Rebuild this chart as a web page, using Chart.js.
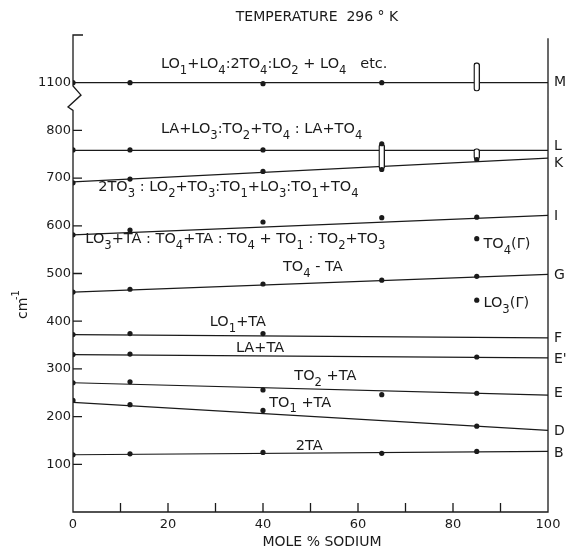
<!DOCTYPE html>
<html>
<head>
<meta charset="utf-8">
<script src="https://cdn.jsdelivr.net/npm/chart.js@4.4.1/dist/chart.umd.min.js"></script>
<style>
  html, body { margin: 0; padding: 0; background: #fff; }
  #wrap { width: 568px; height: 550px; }
</style>
</head>
<body>
<div id="wrap"><canvas id="chart"></canvas></div>
<script>
// measured compositions (mole % sodium)
const molePct = [0, 12, 40, 65, 85];

// measured frequencies (cm-1), null where no point was plotted
const bandM = [1100, 1100, 1098, 1100, null];
const bandL = [759, 759, 759, 772, null];
const bandK = [690, 698, 714, 718, 739];
const bandI = [581, 591, 608, 617, 618];
const bandG = [461, 467, 478, 486, 494];
const bandF = [372, 374, 374, null, null];
const bandE2 = [330, 331, null, null, 325];
const bandE = [271, 273, 256, 246, 249];
const bandD = [234, 225, 213, null, 180];
const bandB = [120, 122, 125, 123, 127];

const bandNames = ['M', 'L', 'K', 'I', 'G', 'F', "E'", 'E', 'D', 'B'];
const bandPoints = [bandM, bandL, bandK, bandI, bandG, bandF, bandE2, bandE, bandD, bandB];

// straight lines drawn through each band, value at 0 % and at 100 %
const lineAt0 = [1100, 758, 692, 581, 461, 372, 330, 271, 230, 120];
const lineAt100 = [1100, 758, 742, 622, 498, 365, 323, 245, 171, 127];
// where the letter at the right edge sits
const letterAt = [1100, 766, 731, 620, 497, 365, 321, 248, 170, 123];

// error ranges drawn as narrow loops
const rangeX = [65, 85, 85];
const rangeLo = [718, 739, 1082];
const rangeHi = [772, 762, 1142];

// zone centre modes
const gammaX = [85, 85];
const gammaY = [573, 444];

const yTickValues = [100, 200, 300, 400, 500, 600, 700, 800, 1100];
const xTickValues = [0, 20, 40, 60, 80, 100];
const xMinorTicks = [10, 20, 30, 40, 50, 60, 70, 80, 90];

// the axis is broken between 800 and 1100
const plotY = v => (v > 1000 ? v - 200 : v);

const FONT = "'DejaVu Sans', sans-serif";
const INK = '#1a1a1a';

// assignments written next to the lines: [x, baseline value, text]
const notes = [
  [18.5, 1130, 'LO_1+LO_4:2TO_4:LO_2 + LO_4   etc.'],
  [18.5, 794, 'LA+LO_3:TO_2+TO_4 : LA+TO_4'],
  [5.3, 672, '2TO_3 : LO_2+TO_3:TO_1+LO_3:TO_1+TO_4'],
  [2.6, 563, 'LO_3+TA : TO_4+TA : TO_4 + TO_1 : TO_2+TO_3'],
  [86.4, 553, 'TO_4(Γ)'],
  [44.2, 505, 'TO_4 - TA'],
  [86.4, 429, 'LO_3(Γ)'],
  [28.8, 390, 'LO_1+TA'],
  [34.3, 335, 'LA+TA'],
  [46.6, 276, 'TO_2 +TA'],
  [41.3, 221, 'TO_1 +TA'],
  [46.9, 129, '2TA']
];

function richText(ctx, text, x, y, size) {
  const parts = text.split(/_(\d)/);
  let cx = x;
  parts.forEach((p, i) => {
    if (!p) return;
    const sub = i % 2 === 1;
    ctx.font = (sub ? size * 0.8 : size) + 'px ' + FONT;
    ctx.fillText(p, cx, sub ? y + size * 0.4 : y);
    cx += ctx.measureText(p).width;
  });
}

const decor = {
  id: 'decor',
  afterDatasetsDraw(chart) {
    const { ctx, scales: { x, y } } = chart;
    const left = x.getPixelForValue(0);
    const right = x.getPixelForValue(100);
    const bottom = y.getPixelForValue(0);
    ctx.save();
    ctx.strokeStyle = INK;
    ctx.fillStyle = INK;
    ctx.lineWidth = 1.3;

    // frame with the break
    ctx.beginPath();
    ctx.moveTo(left + 10, y.getPixelForValue(1000));
    ctx.lineTo(left, y.getPixelForValue(1000));
    ctx.lineTo(left, y.getPixelForValue(893));
    ctx.lineTo(left + 8, y.getPixelForValue(874));
    ctx.lineTo(left - 5, y.getPixelForValue(849));
    ctx.lineTo(left, y.getPixelForValue(842));
    ctx.lineTo(left, bottom);
    ctx.lineTo(right, bottom);
    ctx.lineTo(right, y.getPixelForValue(993));
    ctx.stroke();

    // inward ticks
    ctx.beginPath();
    yTickValues.filter(v => v <= 800).forEach(v => {
      const py = y.getPixelForValue(v);
      ctx.moveTo(left, py);
      ctx.lineTo(left + 9, py);
    });
    xMinorTicks.forEach(v => {
      const px = x.getPixelForValue(v);
      ctx.moveTo(px, bottom);
      ctx.lineTo(px, bottom - 9);
    });
    ctx.stroke();

    // band letters on the right
    ctx.font = '14px ' + FONT;
    ctx.textBaseline = 'middle';
    ctx.textAlign = 'left';
    bandNames.forEach((n, i) => {
      ctx.fillText(n, right + 6, y.getPixelForValue(plotY(letterAt[i])));
    });

    // assignments
    ctx.textBaseline = 'alphabetic';
    notes.forEach(([nx, ny, t]) => {
      richText(ctx, t, x.getPixelForValue(nx), y.getPixelForValue(plotY(ny)), 14.5);
    });

    // titles
    ctx.textAlign = 'center';
    ctx.font = '14px ' + FONT;
    ctx.fillText('TEMPERATURE  296 ° K', 317, 21);
    ctx.fillText('MOLE % SODIUM', 322, 546);

    ctx.translate(27, 310);
    ctx.rotate(-Math.PI / 2);
    ctx.textAlign = 'left';
    ctx.font = '14px ' + FONT;
    ctx.fillText('cm', -9, 0);
    ctx.font = '10px ' + FONT;
    ctx.fillText('-1', 10, -8);
    ctx.restore();
  }
};

const datasets = [];

bandPoints.forEach((vals, i) => {
  datasets.push({
    type: 'scatter',
    label: bandNames[i] + ' points',
    data: molePct.map((m, j) => (vals[j] == null ? null : { x: m, y: plotY(vals[j]) })).filter(Boolean),
    pointRadius: 2.6,
    pointBackgroundColor: INK,
    pointBorderWidth: 0,
    order: 0
  });
  datasets.push({
    type: 'scatter',
    label: bandNames[i],
    showLine: true,
    data: [{ x: 0, y: plotY(lineAt0[i]) }, { x: 100, y: plotY(lineAt100[i]) }],
    borderColor: INK,
    borderWidth: 1.2,
    pointRadius: 0,
    order: 2
  });
});

datasets.push({
  type: 'scatter',
  label: 'zone centre',
  data: gammaX.map((g, i) => ({ x: g, y: gammaY[i] })),
  pointRadius: 2.6,
  pointBackgroundColor: INK,
  pointBorderWidth: 0,
  order: 0
});

datasets.push({
  type: 'bar',
  label: 'ranges',
  data: rangeX.map((r, i) => ({ x: r, y: [plotY(rangeLo[i]), plotY(rangeHi[i])] })),
  backgroundColor: '#fff',
  borderColor: INK,
  borderWidth: 1.4,
  borderSkipped: false,
  borderRadius: 4,
  barThickness: 6,
  order: 1
});

new Chart(document.getElementById('chart'), {
  type: 'scatter',
  data: { datasets },
  options: {
    responsive: true,
    maintainAspectRatio: false,
    animation: false,
    layout: { padding: { left: 13, right: 20, top: 35, bottom: 0 } },
    plugins: { legend: { display: false }, tooltip: { enabled: false }, title: { display: false } },
    scales: {
      x: {
        type: 'linear',
        min: 0,
        max: 100,
        offset: false,
        grid: { display: false, drawTicks: false },
        border: { display: false },
        afterBuildTicks: s => { s.ticks = xTickValues.map(v => ({ value: v })); },
        afterFit: s => { s.height = 38; },
        ticks: { color: INK, font: { family: FONT, size: 13 }, padding: 5, maxRotation: 0 }
      },
      y: {
        type: 'linear',
        min: 0,
        max: 1000,
        grid: { display: false, drawTicks: false },
        border: { display: false },
        afterBuildTicks: s => { s.ticks = yTickValues.map(v => ({ value: plotY(v) })); },
        afterFit: s => { s.width = 60; },
        ticks: {
          color: INK,
          font: { family: FONT, size: 13 },
          padding: 2,
          callback: v => String(v > 800 ? v + 200 : v)
        }
      }
    }
  },
  plugins: [decor]
});
</script>
</body>
</html>
